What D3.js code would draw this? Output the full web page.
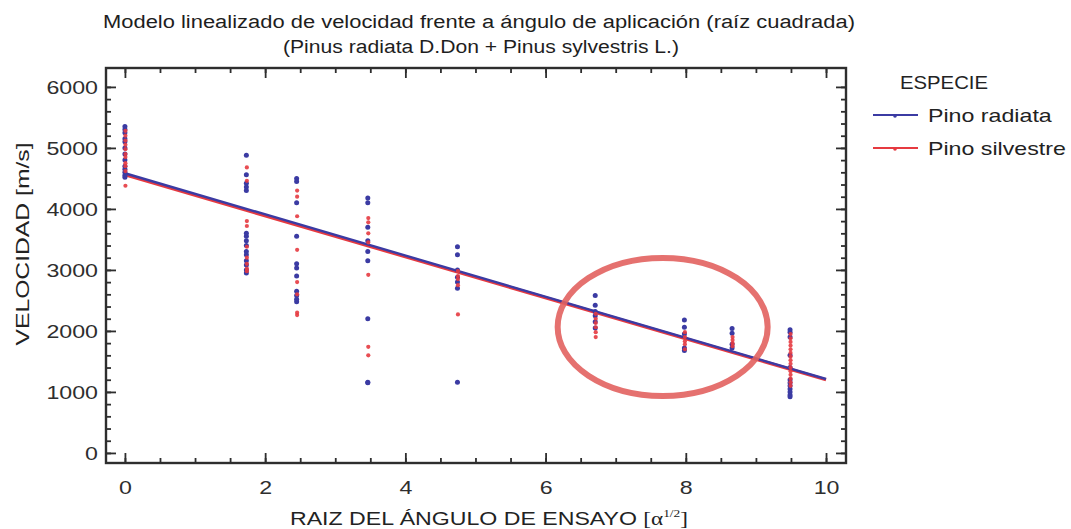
<!DOCTYPE html>
<html>
<head>
<meta charset="utf-8">
<script src="https://cdn.jsdelivr.net/npm/d3@7"></script>
<style>
  body { margin: 0; background: #fff; }
  svg { display: block; }
</style>
</head>
<body>
<svg id="chart" width="1071" height="529"></svg>
<script>
// angles (square root) for each test group
const groupX = [0, 1.732, 2.449, 3.464, 4.743, 6.708, 7.98, 8.66, 9.487];

// velocities [m/s], one list per group
const radiataVel = [
  [5350, 5300, 5250, 5150, 5100, 5000, 4900, 4800, 4700, 4650, 4600, 4550, 4520],
  [4880, 4560, 4420, 4360, 4300, 3600, 3550, 3480, 3400, 3300, 3250, 3150, 3080, 3000, 2950],
  [4500, 4450, 4100, 3550, 3100, 3030, 2900, 2650, 2580, 2520, 2480],
  [4180, 4100, 3700, 3480, 3300, 3150, 2200, 1160, 1150],
  [3380, 3250, 3000, 2880, 2800, 2700, 1160],
  [2580, 2420, 2320, 2250, 2150, 2050],
  [2180, 2060, 1950, 1720, 1680],
  [2040, 1960, 1780, 1720],
  [2020, 1980, 1900, 1600, 1400, 1200, 1150, 1100, 1050, 1000, 950, 920]
];
const silvestreVel = [
  [5280, 5200, 5120, 5050, 4980, 4900, 4850, 4750, 4700, 4620, 4380],
  [4680, 4460, 3800, 3720, 3380, 3200, 3100, 3020, 2980],
  [4300, 4200, 3880, 3330, 2800, 2600, 2300, 2260],
  [3850, 3780, 3600, 3450, 2920, 1740, 1600],
  [2980, 2900, 2850, 2750, 2270],
  [2280, 2200, 2130, 2060, 1980, 1900],
  [1980, 1900, 1830, 1780, 1700],
  [1900, 1850, 1800, 1750],
  [1950, 1880, 1820, 1760, 1700, 1640, 1580, 1520, 1460, 1400, 1340, 1280, 1220, 1160, 1100]
];

// fitted lines (end points)
const fitX = [0, 10];
const fitRadiata = [4585, 1212];
const fitSilvestre = [4560, 1200];

const xTicks = [0, 2, 4, 6, 8, 10];
const yTicks = [0, 1000, 2000, 3000, 4000, 5000, 6000];
const species = ["Pino radiata", "Pino silvestre"];

const BLUE = "#3b3ba3";
const RED = "#e63a40";
const AXIS = "#2e2e2e";
const STRETCH = 1.22;   // the picture's lettering is a bit wide

const svg = d3.select("#chart");
const plotLeft = 106, plotRight = 846, plotTop = 68, plotBottom = 463;

const x = d3.scaleLinear().domain([-0.27, 10.285]).range([plotLeft, plotRight]);
const y = d3.scaleLinear().domain([-165, 6310]).range([plotBottom, plotTop]);

const xMinor = d3.range(0, 10.01, 0.5);
const yMinor = d3.range(0, 6001, 200);

function widen(sel, len) {
  sel.each(function() {
    const w = len || this.getComputedTextLength() * STRETCH;
    d3.select(this).attr("textLength", w).attr("lengthAdjust", "spacingAndGlyphs");
  });
}

/****** title ******/
const title = svg.append("g")
  .attr("font-family", "'Liberation Sans', Arial, sans-serif")
  .attr("fill", "#1e1e1e")
  .attr("text-anchor", "middle");
title.append("text").attr("x", 479).attr("y", 28).attr("font-size", 18)
  .attr("textLength", 752).attr("lengthAdjust", "spacingAndGlyphs")
  .text("Modelo linealizado de velocidad frente a ángulo de aplicación (raíz cuadrada)");
title.append("text").attr("x", 481).attr("y", 53).attr("font-size", 18)
  .attr("textLength", 396).attr("lengthAdjust", "spacingAndGlyphs")
  .text("(Pinus radiata D.Don + Pinus sylvestris L.)");

/****** axes ******/
function styleAxis(g) {
  g.select(".domain").remove();
  g.selectAll("line").attr("stroke", AXIS).attr("stroke-width", 1.8);
  g.selectAll("text").attr("fill", "#2e2e2e")
    .attr("font-family", "'Liberation Sans', Arial, sans-serif").attr("font-size", 19);
}

svg.append("g").attr("transform", `translate(0,${plotBottom})`)
  .call(d3.axisBottom(x).tickValues(xMinor).tickSize(-5).tickFormat("")).call(styleAxis);
svg.append("g").attr("transform", `translate(0,${plotBottom})`)
  .call(d3.axisBottom(x).tickValues(xTicks).tickSize(-10).tickPadding(18).tickFormat(d3.format("d")))
  .call(styleAxis).call(g => widen(g.selectAll("text")));
svg.append("g").attr("transform", `translate(0,${plotTop})`)
  .call(d3.axisTop(x).tickValues(xMinor).tickSize(-5).tickFormat("")).call(styleAxis);
svg.append("g").attr("transform", `translate(0,${plotTop})`)
  .call(d3.axisTop(x).tickValues(xTicks).tickSize(-10).tickFormat("")).call(styleAxis);

svg.append("g").attr("transform", `translate(${plotLeft},0)`)
  .call(d3.axisLeft(y).tickValues(yMinor).tickSize(-5).tickFormat("")).call(styleAxis);
svg.append("g").attr("transform", `translate(${plotLeft},0)`)
  .call(d3.axisLeft(y).tickValues(yTicks).tickSize(-10).tickPadding(8).tickFormat(d3.format("d")))
  .call(styleAxis).call(g => widen(g.selectAll("text")));
svg.append("g").attr("transform", `translate(${plotRight},0)`)
  .call(d3.axisRight(y).tickValues(yMinor).tickSize(-5).tickFormat("")).call(styleAxis);
svg.append("g").attr("transform", `translate(${plotRight},0)`)
  .call(d3.axisRight(y).tickValues(yTicks).tickSize(-10).tickFormat("")).call(styleAxis);

svg.append("rect")
  .attr("x", plotLeft).attr("y", plotTop)
  .attr("width", plotRight - plotLeft).attr("height", plotBottom - plotTop)
  .attr("fill", "none").attr("stroke", AXIS).attr("stroke-width", 2.4);

// axis titles
const yTitle = svg.append("text")
  .attr("transform", "translate(29,244) rotate(-90)")
  .attr("text-anchor", "middle")
  .attr("font-family", "'Liberation Sans', Arial, sans-serif").attr("font-size", 19)
  .attr("fill", "#222")
  .text("VELOCIDAD [m/s]");
widen(yTitle, 203);

const xTitle = svg.append("text")
  .attr("x", 290).attr("y", 525)
  .attr("font-family", "'Liberation Sans', Arial, sans-serif").attr("font-size", 19)
  .attr("fill", "#222");
xTitle.append("tspan").text("RAIZ DEL ÁNGULO DE ENSAYO ");
xTitle.append("tspan").attr("font-family", "'Liberation Serif', 'Times New Roman', serif").text("[α");
xTitle.append("tspan").attr("font-family", "'Liberation Serif', serif").attr("font-size", 11)
  .attr("dy", -8).text("1/2");
xTitle.append("tspan").attr("font-family", "'Liberation Serif', serif").attr("dy", 8).text("]");
xTitle.attr("textLength", 398).attr("lengthAdjust", "spacingAndGlyphs");

/****** points ******/
function flatten(vel) {
  const out = [];
  vel.forEach((list, i) => list.forEach(v => out.push([groupX[i], v])));
  return out;
}

const plot = svg.append("g");
const line = d3.line().x(d => x(d[0])).y(d => y(d[1]));

plot.append("path")
  .datum(fitX.map((v, i) => [v, fitSilvestre[i]]))
  .attr("d", line).attr("fill", "none").attr("stroke", RED).attr("stroke-width", 3.2);
plot.append("path")
  .datum(fitX.map((v, i) => [v, fitRadiata[i]]))
  .attr("d", line).attr("fill", "none").attr("stroke", BLUE).attr("stroke-width", 2.4);

plot.selectAll(".pr")
  .data(flatten(radiataVel))
  .enter().append("circle")
  .attr("class", "pr")
  .attr("cx", d => x(d[0])).attr("cy", d => y(d[1]))
  .attr("r", 2.5).attr("fill", BLUE);

plot.selectAll(".ps")
  .data(flatten(silvestreVel))
  .enter().append("circle")
  .attr("class", "ps")
  .attr("cx", d => x(d[0]) + 0.5).attr("cy", d => y(d[1]))
  .attr("r", 2.1).attr("fill", RED).attr("opacity", 0.9);

/****** highlight ellipse ******/
svg.append("ellipse")
  .attr("cx", x(7.67)).attr("cy", y(2066))
  .attr("rx", 105).attr("ry", 69)
  .attr("fill", "none").attr("stroke", "#e2625f").attr("stroke-width", 6).attr("opacity", 0.9);

/****** legend ******/
const legend = svg.append("g")
  .attr("font-family", "'Liberation Sans', Arial, sans-serif").attr("font-size", 19)
  .attr("fill", "#222");
const head = legend.append("text").attr("x", 900).attr("y", 89).text("ESPECIE");
widen(head, 88);

const colors = [BLUE, RED];
species.forEach((name, i) => {
  const yy = 115 + i * 33;
  legend.append("line").attr("x1", 873).attr("x2", 918).attr("y1", yy).attr("y2", yy)
    .attr("stroke", colors[i]).attr("stroke-width", 2);
  legend.append("circle").attr("cx", 895).attr("cy", yy + 1).attr("r", 1.8).attr("fill", colors[i]);
  const t = legend.append("text").attr("x", 928).attr("y", yy + 7).text(name);
  widen(t);
});
</script>
</body>
</html>
